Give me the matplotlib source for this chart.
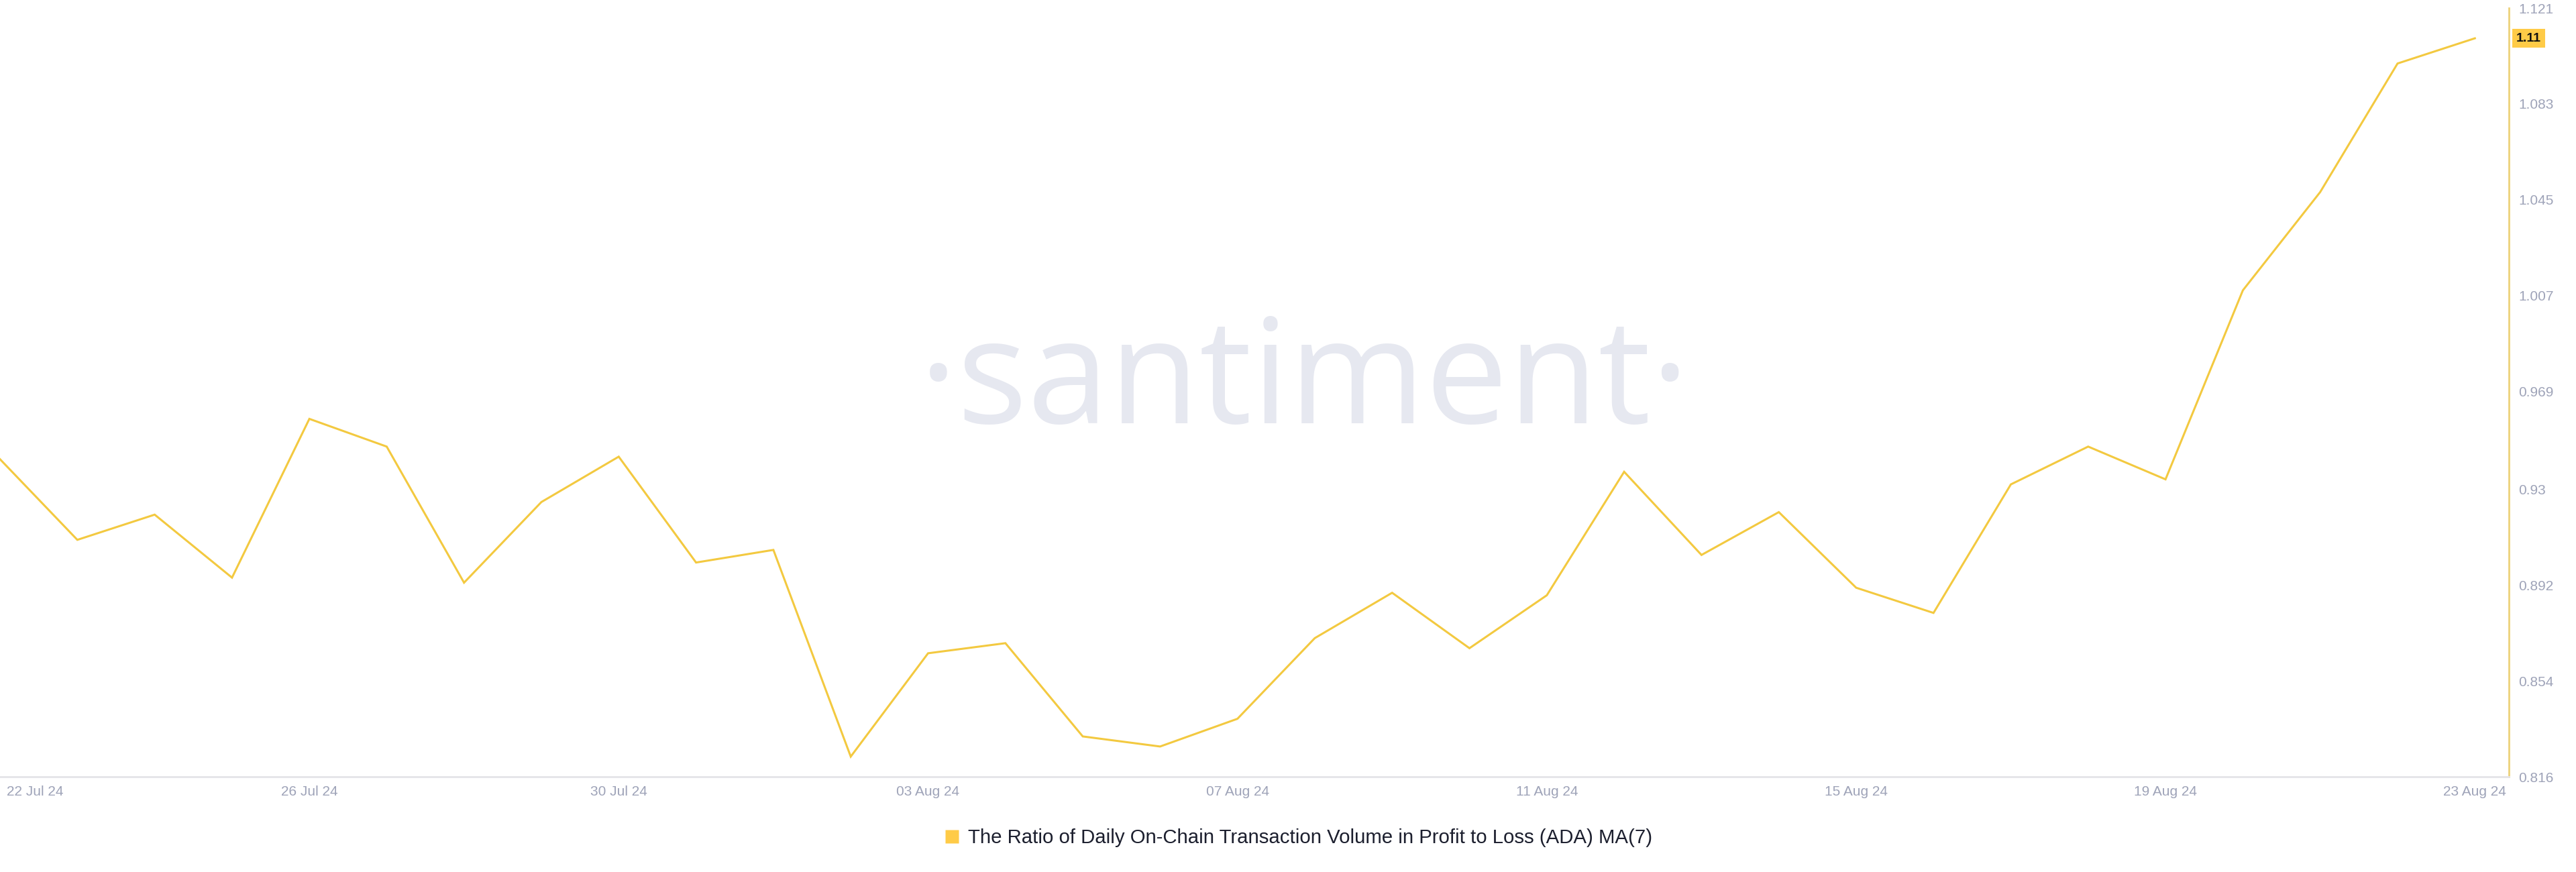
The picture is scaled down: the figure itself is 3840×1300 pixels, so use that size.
import matplotlib
matplotlib.use("Agg")
import matplotlib.pyplot as plt
from matplotlib.lines import Line2D
import matplotlib.transforms as mtransforms

dates = ["22 Jul 24", "23 Jul 24", "24 Jul 24", "25 Jul 24", "26 Jul 24", "27 Jul 24",
         "28 Jul 24", "29 Jul 24", "30 Jul 24", "31 Jul 24", "01 Aug 24", "02 Aug 24",
         "03 Aug 24", "04 Aug 24", "05 Aug 24", "06 Aug 24", "07 Aug 24", "08 Aug 24",
         "09 Aug 24", "10 Aug 24", "11 Aug 24", "12 Aug 24", "13 Aug 24", "14 Aug 24",
         "15 Aug 24", "16 Aug 24", "17 Aug 24", "18 Aug 24", "19 Aug 24", "20 Aug 24",
         "21 Aug 24", "22 Aug 24", "23 Aug 24"]
ratio_ma7 = [0.942, 0.910, 0.920, 0.895, 0.958, 0.947, 0.893, 0.925, 0.943, 0.901,
             0.906, 0.824, 0.865, 0.869, 0.832, 0.828, 0.839, 0.871, 0.889, 0.867,
             0.888, 0.937, 0.904, 0.921, 0.891, 0.881, 0.932, 0.947, 0.934, 1.009,
             1.048, 1.099, 1.109]
ytick_values = [0.816, 0.854, 0.892, 0.93, 0.969, 1.007, 1.045, 1.083, 1.121]
ytick_labels = ["0.816", "0.854", "0.892", "0.93", "0.969", "1.007", "1.045", "1.083", "1.121"]
xtick_labels = ["22 Jul 24", "26 Jul 24", "30 Jul 24", "03 Aug 24", "07 Aug 24",
                "11 Aug 24", "15 Aug 24", "19 Aug 24", "23 Aug 24"]
last_label = "1.11"
series_name = "The Ratio of Daily On-Chain Transaction Volume in Profit to Loss (ADA) MA(7)"

LINE = "#f3c940"
TICK = "#9ea3b8"
FONT = "Liberation Sans"

fig = plt.figure(figsize=(38.4, 13), dpi=100)
fig.patch.set_facecolor("white")
ax = fig.add_axes([0.0, 1 - 1158 / 1300, 3740 / 3840, (1158 - 12) / 1300])
ax.set_facecolor("white")

x = list(range(len(dates)))
ax.plot(x, ratio_ma7, color=LINE, lw=2.2, solid_joinstyle="miter", zorder=3)

ax.set_xlim(0, 32.44)
ax.set_ylim(0.816, 1.121)

# watermark
ax.text(0.52, 0.51, "·santiment·", transform=ax.transAxes,
        fontsize=158, family="Open Sans", color="#e6e8f0", ha="center", va="center",
        zorder=0)

# x ticks
xt = [dates.index(d) for d in xtick_labels]
ax.set_xticks(xt)
ax.set_xticklabels(xtick_labels, fontsize=15, color=TICK, family=FONT)
ax.tick_params(axis="x", length=0, pad=9)
lbls = ax.get_xticklabels()
lbls[0].set_ha("left")
lbls[0].set_transform(lbls[0].get_transform() + mtransforms.ScaledTranslation(0.1, 0, fig.dpi_scale_trans))

# y ticks on right
ax.yaxis.tick_right()
ax.set_yticks(ytick_values)
ax.set_yticklabels(ytick_labels, fontsize=15, color=TICK, family=FONT)
ax.tick_params(axis="y", length=0, pad=10)

for s in ["top", "left"]:
    ax.spines[s].set_visible(False)
ax.spines["bottom"].set_color("#e4e4e8")
ax.spines["bottom"].set_linewidth(2)
ax.spines["right"].set_color("#ecd27a")
ax.spines["right"].set_linewidth(2)

# last value badge
ax.annotate(last_label, xy=(1.0, ratio_ma7[-1]), xycoords=("axes fraction", "data"),
            xytext=(11, 0), textcoords="offset pixels", ha="left", va="center",
            fontsize=14, fontweight="bold", family=FONT, color="#111111",
            bbox=dict(boxstyle="square,pad=0.3", fc="#ffcb47", ec="none"))

# legend
handle = Line2D([], [], marker="s", color="none", markerfacecolor="#ffcb47",
                markeredgecolor="none", markersize=15)
fig.legend([handle], [series_name], loc="center", bbox_to_anchor=(0.504, 1 - 1249 / 1300),
           frameon=False, prop=dict(family=FONT, size=21.2), labelcolor="#1c1f2e",
           handlelength=0.8, handletextpad=0.4)

fig.savefig("out.png", dpi=100, facecolor="white")
